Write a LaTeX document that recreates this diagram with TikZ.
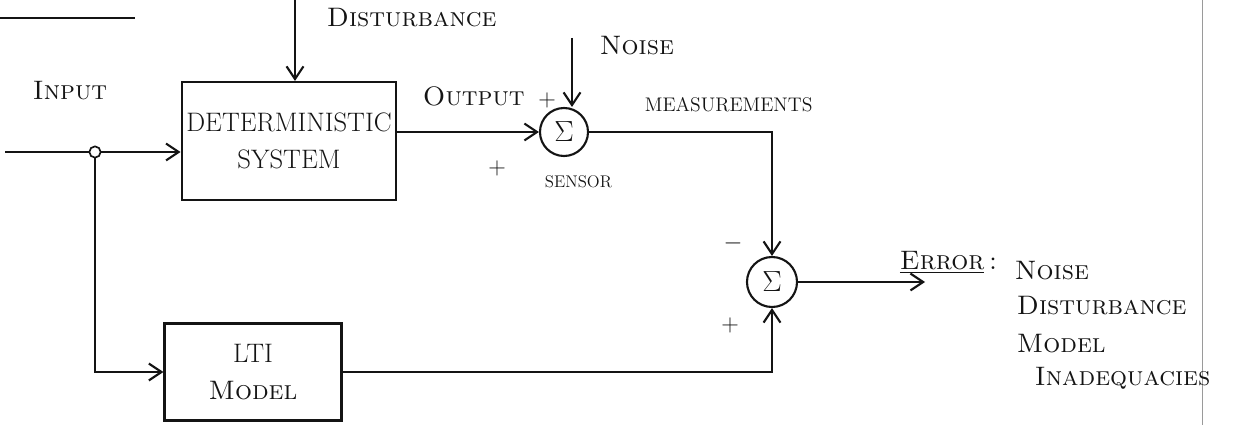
\documentclass[tikz,border=0pt]{standalone}
\usepackage{tikz}
\usetikzlibrary{arrows.meta}
\definecolor{ink}{HTML}{141414}
\definecolor{edge}{HTML}{9A9A9A}

\begin{document}
\begin{tikzpicture}[x=0.025cm, y=-0.025cm, ink,
    blk/.style={draw=ink, line width=1.5pt, align=center, font=\fontsize{19}{26}\selectfont},
    sumnode/.style={draw=ink, circle, line width=1.5pt, inner sep=0pt, font=\fontsize{20}{22}\selectfont},
    arr/.style={draw=ink, line width=1.5pt, -{Straight Barb[length=9pt, width=12pt]}},
    lbl/.style={anchor=base west, font=\fontsize{19}{22}\selectfont\scshape},
    sgn/.style={font=\fontsize{16}{18}\selectfont}]
  \useasboundingbox (0,0) rectangle (1234,425);
  % scan leftovers: crossed-out heading and page edge
  \draw[ink, line width=2pt] (0,18) -- (135,18);
  \draw[edge, line width=0.6pt] (1202,0) -- (1202,425);

  % blocks and summing junctions
  \node[blk, minimum width=5.3cm, minimum height=2.95cm] (sys) at (289,141) {DETERMINISTIC\\SYSTEM};
  \node[blk, minimum width=4.425cm, minimum height=2.425cm] (lti) at (253,372) {LTI\\\textsc{Model}};
  \node[sumnode, minimum size=1.2cm] (sen) at (564,132) {$\Sigma$};
  \node[sumnode, minimum size=1.25cm] (sum) at (772,282) {$\Sigma$};
  \node[draw=ink, circle, line width=1.2pt, minimum size=8pt, inner sep=0pt] (jn) at (95,152) {};

  \coordinate (in) at (5,152);
  \coordinate (dtop) at (295,0);
  \coordinate (ntop) at (572,38);
  \coordinate (eend) at (925,282);

  % signal paths
  \draw[arr] (in) -- (jn) -- (sys.west |- jn);
  \draw[arr] (jn) |- (lti.west);
  \draw[arr] (dtop) -- (dtop |- sys.north);
  \draw[arr] (sys.east |- sen) -- (sen.west);
  \draw[arr] (ntop) -- (ntop |- sen.north);
  \draw[arr] (sen.east) -| (sum.north);
  \draw[arr] (lti.east) -| (sum.south);
  \draw[arr] (sum.east) -- (eend);

  % labels
  \node[lbl] (tin) at (28,100) {Input};
  \node[lbl] (tdist) at (322,27) {Disturbance};
  \node[lbl] (tout) at (418,106) {Output};
  \node[lbl] (tnoise) at (595,55) {Noise};
  \node[lbl, font=\fontsize{14}{18}\selectfont] (tmeas) at (640,112) {MEASUREMENTS};
  \node[lbl, font=\fontsize{12}{14}\selectfont] (tsen) at (540,188) {SENSOR};
  \node[sgn] (p1) at (547,100) {$+$};
  \node[sgn] (p2) at (497,168) {$+$};
  \node[sgn] (m3) at (733,243) {$-$};
  \node[sgn] (p3) at (730,325) {$+$};
  \node[lbl] (terr) at (895,270) {\underline{Error}\,:};
  \node[lbl] (e1) at (1010,280) {Noise};
  \node[lbl] (e2) at (1012,315) {Disturbance};
  \node[lbl] (e3) at (1012,352) {Model};
  \node[lbl] (e4) at (1030,385) {Inadequacies};
\end{tikzpicture}
\end{document}
